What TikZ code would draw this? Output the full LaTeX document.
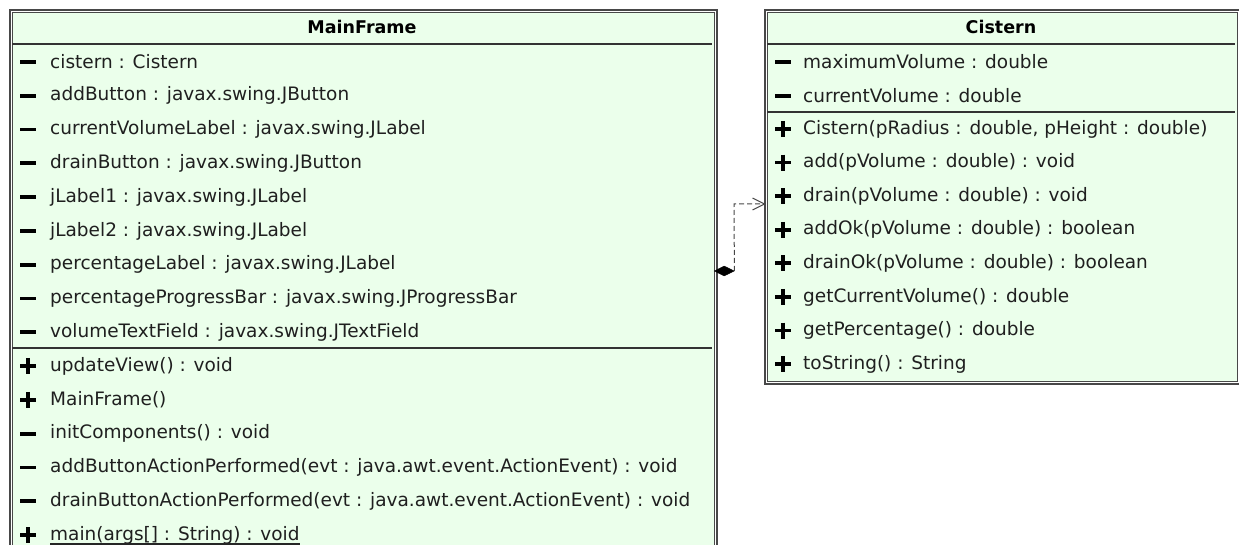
\documentclass[tikz,border=0pt]{standalone}
\usepackage{fontspec}
\setmainfont{DejaVu Sans}
\usetikzlibrary{shapes.geometric}
\definecolor{classfill}{RGB}{235,255,235}
\definecolor{frameline}{RGB}{72,72,72}
\definecolor{linkgray}{RGB}{70,70,70}

\begin{document}
\begin{tikzpicture}[x=1bp,y=-1bp,
  umlbox/.style={draw=frameline, double=white, double distance=1.1bp,
    line width=1.3bp, fill=classfill, anchor=north west, inner sep=0pt},
  rowtext/.style={anchor=west, inner sep=0pt,
    font=\fontsize{18.5bp}{21bp}\selectfont, text=black!88},
  classtitle/.style={inner sep=0pt, font=\fontsize{17.5bp}{20bp}\selectfont\bfseries},
  sepline/.style={draw=black!80, line width=1.3bp},
  vis/.style={line width=3.8bp, black}
]
\useasboundingbox (0,0) rectangle (1239,545);
\clip (0,0) rectangle (1239,545);

% ---------- class MainFrame ----------
\node[umlbox, minimum width=704.5bp, minimum height=600bp] (mainframe) at (10.5,10.5) {};
\node[classtitle] (mftitle) at (362,27) {MainFrame};
\draw[sepline] (12,44) -- (712,44);
\draw[sepline] (12,348) -- (712,348);

\foreach \t [count=\i] in {
  {cistern : Cistern},
  {addButton : javax.swing.JButton},
  {currentVolumeLabel : javax.swing.JLabel},
  {drainButton : javax.swing.JButton},
  {jLabel1 : javax.swing.JLabel},
  {jLabel2 : javax.swing.JLabel},
  {percentageLabel : javax.swing.JLabel},
  {percentageProgressBar : javax.swing.JProgressBar},
  {volumeTextField : javax.swing.JTextField}} {
  \pgfmathsetmacro\yy{62+(\i-1)*33.8}
  \draw[vis] (20,\yy) -- (36,\yy);
  \node[rowtext] (mfattr\i) at (50,\yy) {\t};
}

\foreach \h/\t [count=\i] in {
  8/{updateView() : void},
  8/{MainFrame()},
  0/{initComponents() : void},
  0/{addButtonActionPerformed(evt : java.awt.event.ActionEvent) : void},
  0/{drainButtonActionPerformed(evt : java.awt.event.ActionEvent) : void}} {
  \pgfmathsetmacro\yy{366+(\i-1)*33.8}
  \draw[vis] (20,\yy) -- (36,\yy);
  \ifdim\h pt>0pt \draw[vis] (28,\yy-\h) -- (28,\yy+\h); \fi
  \node[rowtext] (mfop\i) at (50,\yy) {\t};
}
% static operation, set underlined
\pgfmathsetmacro\yy{366+5*33.8}
\draw[vis] (20,\yy) -- (36,\yy);
\draw[vis] (28,\yy-8) -- (28,\yy+8);
\node[rowtext] (mfop6) at (50,\yy) {main(args[] : String) : void};
\draw[black!85, line width=1.1bp] (mfop6.west |- 0,\yy+9) -- (mfop6.east |- 0,\yy+9);

% ---------- class Cistern ----------
\node[umlbox, minimum width=472.5bp, minimum height=371.5bp] (cistern) at (765.5,10.5) {};
\node[classtitle] (cistitle) at (1001,27) {Cistern};
\draw[sepline] (767,44) -- (1235,44);
\draw[sepline] (767,112) -- (1235,112);

\foreach \t [count=\i] in {
  {maximumVolume : double},
  {currentVolume : double}} {
  \pgfmathsetmacro\yy{62+(\i-1)*33.8}
  \draw[vis] (775,\yy) -- (791,\yy);
  \node[rowtext] (cisattr\i) at (803,\yy) {\t};
}

\foreach \t [count=\i] in {
  {Cistern(pRadius : double, pHeight : double)},
  {add(pVolume : double) : void},
  {drain(pVolume : double) : void},
  {addOk(pVolume : double) : boolean},
  {drainOk(pVolume : double) : boolean},
  {getCurrentVolume() : double},
  {getPercentage() : double},
  {toString() : String}} {
  \pgfmathsetmacro\yy{129+(\i-1)*33.6}
  \draw[vis] (775,\yy) -- (791,\yy);
  \draw[vis] (783,\yy-8) -- (783,\yy+8);
  \node[rowtext] (cisop\i) at (803,\yy) {\t};
}

% ---------- composition MainFrame -> Cistern ----------
\node[diamond, fill=black, draw=black, inner sep=0pt, minimum width=20bp,
      minimum height=10bp, anchor=west] (agg) at (714,271) {};
\coordinate (bend) at (734,204);
\coordinate (target) at (cistern.west |- bend);
\draw[linkgray, line width=1bp, dash pattern=on 5bp off 3bp]
  (agg.east) -- (bend) -- ([xshift=-1bp]target);
\draw[linkgray, line width=1bp] ([xshift=-13bp,yshift=-6bp]target)
  -- ([xshift=-1bp]target) -- ([xshift=-13bp,yshift=6bp]target);
\end{tikzpicture}
\end{document}
